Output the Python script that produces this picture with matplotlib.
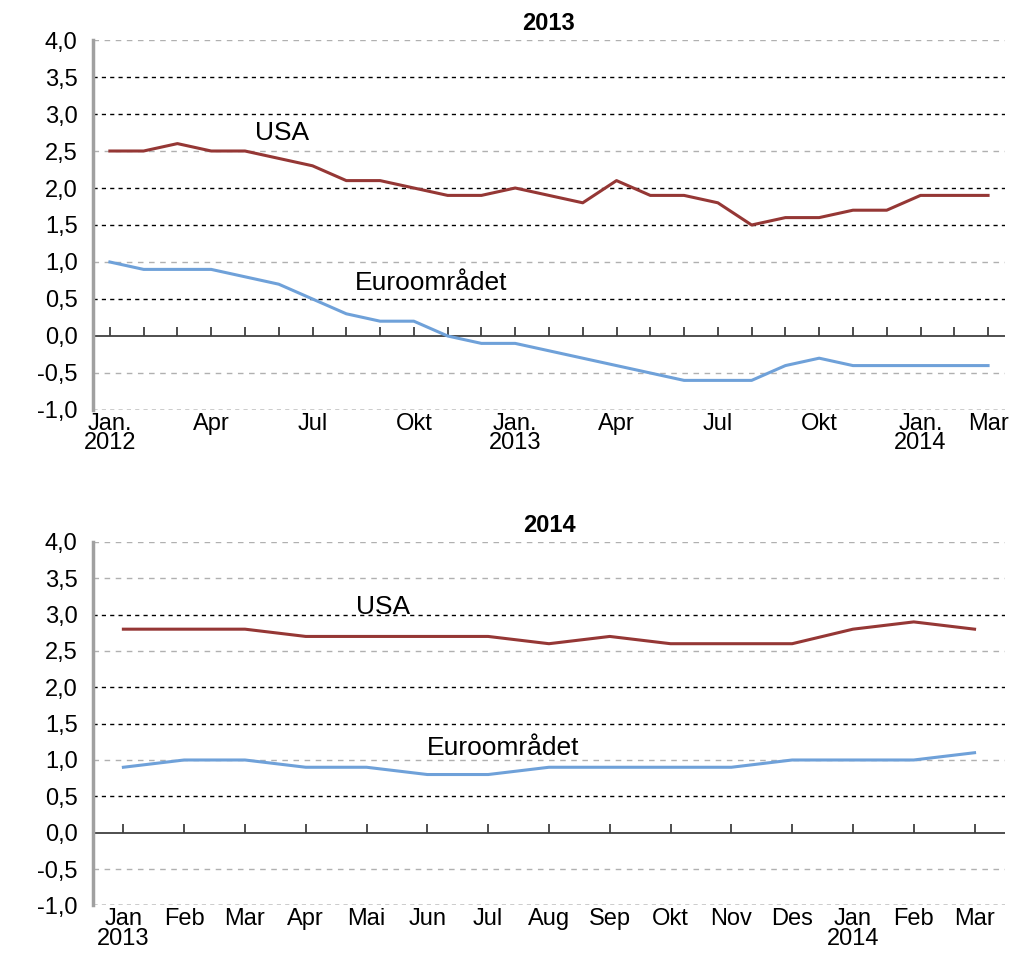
import numpy as np
import matplotlib.pyplot as plt

plt.rcParams['font.family'] = ['Liberation Sans', 'DejaVu Sans']

# 2013 panel: monthly, Jan 2012 - Mar 2014
usa_top = [2.5, 2.5, 2.6, 2.5, 2.5, 2.4, 2.3, 2.1, 2.1, 2.0, 1.9, 1.9,
           2.0, 1.9, 1.8, 2.1, 1.9, 1.9, 1.8, 1.5, 1.6, 1.6, 1.7, 1.7,
           1.9, 1.9, 1.9]
euro_top = [1.0, 0.9, 0.9, 0.9, 0.8, 0.7, 0.5, 0.3, 0.2, 0.2, 0.0, -0.1,
            -0.1, -0.2, -0.3, -0.4, -0.5, -0.6, -0.6, -0.6, -0.4, -0.3, -0.4, -0.4,
            -0.4, -0.4, -0.4]
top_tick_pos = [0, 3, 6, 9, 12, 15, 18, 21, 24, 26]
top_tick_lab = ['Jan.\n2012', 'Apr', 'Jul', 'Okt', 'Jan.\n2013', 'Apr', 'Jul', 'Okt',
                'Jan.\n2014', 'Mar']

# 2014 panel: monthly, Jan 2013 - Mar 2014
usa_bot = [2.8, 2.8, 2.8, 2.7, 2.7, 2.7, 2.7, 2.6, 2.7, 2.6, 2.6, 2.6, 2.8, 2.9, 2.8]
euro_bot = [0.9, 1.0, 1.0, 0.9, 0.9, 0.8, 0.8, 0.9, 0.9, 0.9, 0.9, 1.0, 1.0, 1.0, 1.1]
bot_tick_lab = ['Jan\n2013', 'Feb', 'Mar', 'Apr', 'Mai', 'Jun', 'Jul', 'Aug', 'Sep',
                'Okt', 'Nov', 'Des', 'Jan\n2014', 'Feb', 'Mar']

yticks = [-1.0, -0.5, 0.0, 0.5, 1.0, 1.5, 2.0, 2.5, 3.0, 3.5, 4.0]
grey_top = [4.0, 2.5, 1.0, -0.5]
grey_bot = [4.0, 3.5, 2.5, 1.0, -0.5]

USA_C = '#953735'
EURO_C = '#6FA1D9'
FS = 17


def panel(ax, usa, euro, tpos, tlab, title, grey, usa_xy, euro_xy):
    x = np.arange(len(usa))
    ax.set_xlim(-0.5, len(usa) - 0.5)
    ax.set_ylim(-1.0, 4.0)
    for v in yticks:
        if v == 0.0:
            continue
        if v in grey:
            ax.axhline(v, color='#b0b0b0', lw=1.0, dashes=(4, 4), zorder=1)
        else:
            ax.axhline(v, color='black', lw=1.0, dashes=(3, 3), zorder=1)
    ax.axhline(0, color='#404040', lw=1.3, zorder=2)
    ax.vlines(x, 0, 0.12, color='#404040', lw=1.3, zorder=2)
    ax.plot(x, usa, color=USA_C, lw=2.2, zorder=3)
    ax.plot(x, euro, color=EURO_C, lw=2.2, zorder=3)
    ax.text(usa_xy[0], usa_xy[1], 'USA', fontsize=19, ha='center', va='center')
    ax.text(euro_xy[0], euro_xy[1], 'Euroområdet', fontsize=19, ha='center', va='center')
    ax.set_yticks(yticks)
    ax.set_yticklabels([('%.1f' % v).replace('.', ',') for v in yticks], fontsize=FS)
    ax.set_xticks(tpos)
    ax.set_xticklabels(tlab, fontsize=FS, linespacing=0.85)
    ax.tick_params(length=0, axis='y', pad=11)
    ax.tick_params(length=0, axis='x', pad=2)
    for s in ['top', 'right', 'bottom']:
        ax.spines[s].set_visible(False)
    ax.spines['left'].set_color('#a0a0a0')
    ax.spines['left'].set_linewidth(2.5)
    ax.set_title(title, fontsize=17, fontweight='bold', pad=7)


fig = plt.figure(figsize=(10.15, 9.55), dpi=100)
ax1 = fig.add_axes([0.0916, 0.5707, 0.8985, 0.3874])
ax2 = fig.add_axes([0.0916, 0.052, 0.8985, 0.3805])

panel(ax1, usa_top, euro_top, top_tick_pos, top_tick_lab, '2013', grey_top,
      (5.1, 2.74), (9.5, 0.72))
panel(ax2, usa_bot, euro_bot, list(range(15)), bot_tick_lab, '2014', grey_bot,
      (4.27, 3.1), (6.24, 1.16))

fig.savefig('out.png', dpi=100)
